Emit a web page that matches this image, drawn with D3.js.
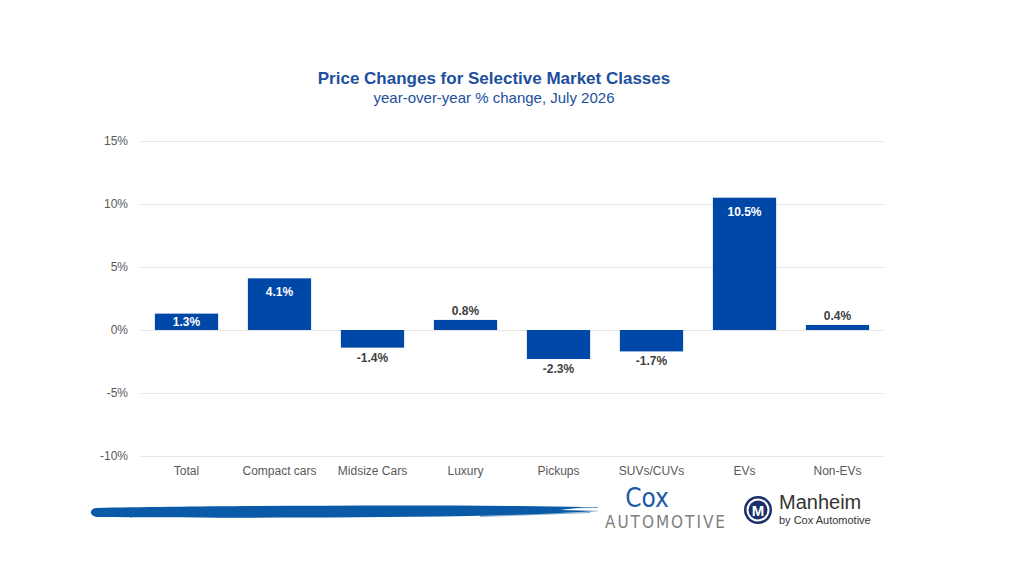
<!DOCTYPE html>
<html>
<head>
<meta charset="utf-8">
<script src="https://cdn.jsdelivr.net/npm/d3@7"></script>
<style>
  body { margin: 0; background: #fff; }
  svg { font-family: "Liberation Sans", Arial, sans-serif; }
</style>
</head>
<body>
<svg width="1024" height="576"></svg>
<script>
const categories = ['Total', 'Compact cars', 'Midsize Cars', 'Luxury', 'Pickups', 'SUVs/CUVs', 'EVs', 'Non-EVs']
const values = [1.3, 4.1, -1.4, 0.8, -2.3, -1.7, 10.5, 0.4]
const insideLabels = ['Total', 'Compact cars', 'EVs']
const yTicks = [-10, -5, 0, 5, 10, 15]

const barColor = '#0048a8',
  titleColor = '#1d4f9e',
  gridColor = '#e6e6e6',
  textColor = '#595959'

const margin = {top: 141, right: 140, bottom: 120, left: 140}

// plain hyphen for negatives, like the source chart
const pct = v => (v < 0 ? '-' : '') + Math.abs(v).toFixed(1) + '%'

const svg = d3.select('svg')

const x = d3.scaleBand()
  .domain(categories)
  .range([margin.left, 1024 - margin.right])
  .paddingInner(0.32)
  .paddingOuter(0.16)

const y = d3.scaleLinear()
  .domain([-10, 15])
  .range([456, 141])

// title
svg.append('text')
  .attr('x', 494).attr('y', 84)
  .attr('text-anchor', 'middle')
  .attr('fill', titleColor)
  .style('font-size', '17px')
  .style('font-weight', 'bold')
  .text('Price Changes for Selective Market Classes')

svg.append('text')
  .attr('x', 494).attr('y', 103)
  .attr('text-anchor', 'middle')
  .attr('fill', titleColor)
  .style('font-size', '15px')
  .text('year-over-year % change, July 2026')

// gridlines + y labels
const yAxis = d3.axisLeft(y)
  .tickValues(yTicks)
  .tickSize(-(1024 - margin.left - margin.right))
  .tickPadding(12)
  .tickFormat(d => (d < 0 ? '-' : '') + Math.abs(d) + '%')

svg.append('g')
  .attr('transform', `translate(${margin.left},0)`)
  .call(yAxis)
  .call(g => g.select('.domain').remove())
  .call(g => g.selectAll('.tick line').attr('stroke', gridColor))
  .call(g => g.selectAll('.tick text')
    .attr('fill', textColor)
    .style('font-family', '"Liberation Sans", Arial, sans-serif')
    .style('font-size', '12px'))

// bars
svg.append('g').selectAll('rect')
  .data(categories)
  .join('rect')
  .attr('x', d => x(d))
  .attr('width', x.bandwidth())
  .attr('y', (d, i) => y(Math.max(0, values[i])))
  .attr('height', (d, i) => Math.abs(y(values[i]) - y(0)))
  .attr('fill', barColor)

// value labels
svg.append('g').selectAll('text')
  .data(categories)
  .join('text')
  .attr('x', d => x(d) + x.bandwidth() / 2)
  .attr('y', (d, i) => {
    const v = values[i]
    if (insideLabels.includes(d)) return Math.min(y(v) + 18, (y(v) + y(0)) / 2 + 4)
    return v >= 0 ? y(v) - 5 : y(v) + 14
  })
  .attr('text-anchor', 'middle')
  .attr('fill', d => insideLabels.includes(d) ? '#fff' : '#404040')
  .style('font-size', '12px')
  .style('font-weight', 'bold')
  .text((d, i) => pct(values[i]))

// x category labels
const xAxis = d3.axisBottom(x).tickSize(0).tickPadding(10)
svg.append('g')
  .attr('transform', `translate(0,${y(-10)})`)
  .call(xAxis)
  .call(g => g.select('.domain').remove())
  .call(g => g.selectAll('.tick text')
    .attr('fill', textColor)
    .style('font-size', '12px')
    .style('font-family', '"Liberation Sans", Arial, sans-serif'))

// footer brush stroke
const brush = svg.append('g').attr('fill', '#0a5aa8')
brush.append('path')
  .attr('d', 'M96,508 C200,506 380,505 520,506 L585,507 L560,510 L600,511 L540,514 L470,516 C330,518 200,518 97,517 C89,516 89,509 96,508 Z')
brush.append('path').attr('opacity', 0.6)
  .attr('d', 'M500,507 L598,507 L598,508 L500,509 Z')
brush.append('path').attr('opacity', 0.5)
  .attr('d', 'M480,515 L590,512 L590,513 L480,517 Z')

// Cox Automotive logo
svg.append('text')
  .attr('x', 647).attr('y', 507)
  .attr('text-anchor', 'middle')
  .attr('fill', '#1d5aa6')
  .style('font-family', '"Liberation Sans Narrow", "DejaVu Sans Condensed", sans-serif')
  .style('font-size', '26px')
  .text('Cox')

svg.append('text')
  .attr('x', 665).attr('y', 528)
  .attr('text-anchor', 'middle')
  .attr('fill', '#7f7f7f')
  .style('font-family', '"Liberation Sans Narrow", "DejaVu Sans Condensed", sans-serif')
  .style('font-size', '17px')
  .attr('textLength', 120)
  .text('AUTOMOTIVE')

// Manheim logo
const m = svg.append('g').attr('transform', 'translate(758,510)')
m.append('circle').attr('r', 14).attr('fill', '#1b2f6b')
m.append('circle').attr('r', 11.5).attr('fill', '#fff')
m.append('circle').attr('r', 9.5).attr('fill', '#1b2f6b')
m.append('text')
  .attr('y', 6)
  .attr('text-anchor', 'middle')
  .attr('fill', '#fff')
  .style('font-size', '15px')
  .style('font-weight', 'bold')
  .text('M')

svg.append('text')
  .attr('x', 779).attr('y', 509)
  .attr('fill', '#333')
  .style('font-size', '20px')
  .text('Manheim')

svg.append('text')
  .attr('x', 779).attr('y', 524)
  .attr('fill', '#333')
  .style('font-size', '11px')
  .text('by Cox Automotive')
</script>
</body>
</html>
